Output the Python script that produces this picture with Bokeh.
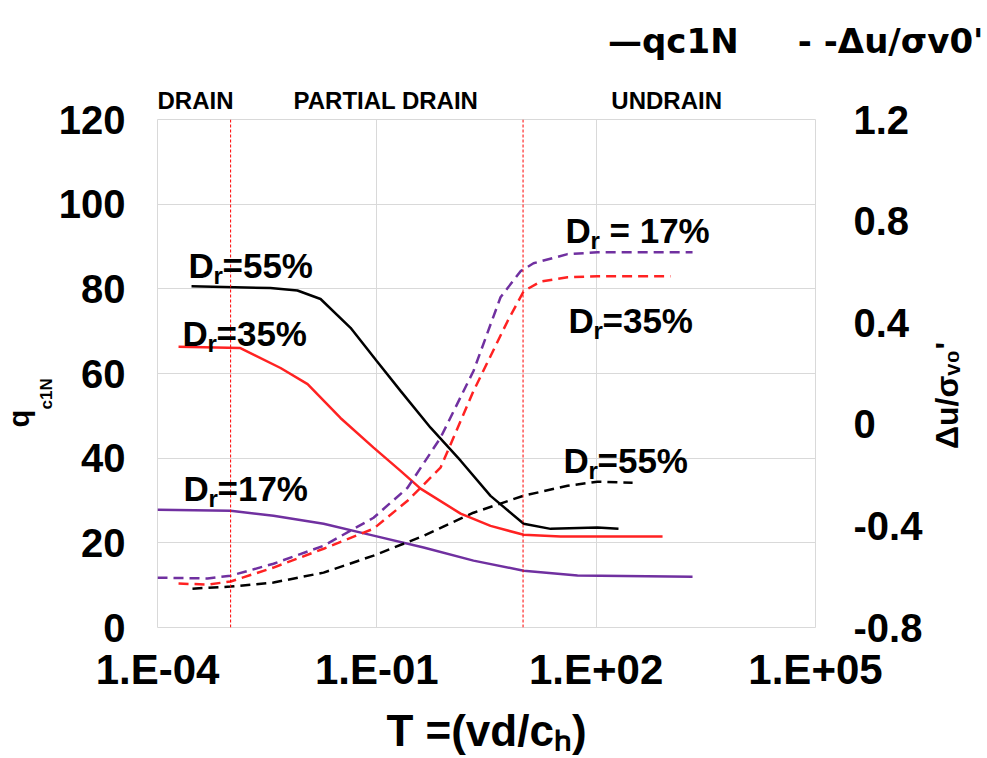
import math
from bokeh.plotting import figure
from bokeh.models import (Range1d, LinearAxis, FixedTicker, CustomJSTickFormatter,
                          Span, Label, Title)
from bokeh.embed import file_html
from bokeh.resources import INLINE

# ---- data: normalised penetration velocity T = vd/c_h ----
# cone resistance q_c1N (left axis)
t_qc_55 = [2.92e-4, 3.5e-3, 8.2e-3, 0.0170, 0.0437, 0.099, 0.211, 0.543, 1.40, 3.59, 10.2, 23.8, 104, 202]
qc_55 = [80.6, 80.2, 79.6, 77.6, 70.8, 63.0, 55.9, 47.2, 39.4, 31.1, 24.5, 23.3, 23.6, 23.3]

t_qc_35 = [1.94e-4, 1.36e-3, 4.82e-3, 0.0113, 0.0318, 0.0902, 0.211, 0.396, 1.40, 3.59, 10.2, 32.6, 809]
qc_35 = [66.3, 66.0, 61.3, 57.5, 49.5, 42.5, 37.0, 32.8, 26.9, 24.0, 21.9, 21.5, 21.5]

t_qc_17 = [1.0e-4, 1.0e-3, 3.86e-3, 0.0187, 0.0902, 0.436, 2.10, 10.2, 55.6, 2080]
qc_17 = [27.8, 27.6, 26.4, 24.5, 21.7, 18.9, 15.8, 13.4, 12.3, 12.0]

# excess pore pressure ratio du/sigma'_v0 (right axis)
t_du_17 = [1.0e-4, 4.83e-4, 1.0e-3, 3.86e-3, 0.0187, 0.0902, 0.263, 0.743, 2.10, 4.92, 9.25, 13.9, 40.6, 104, 2080]
du_17 = [-0.604, -0.607, -0.596, -0.549, -0.478, -0.368, -0.25, -0.053, 0.21, 0.50, 0.603, 0.634, 0.67, 0.677, 0.677]

t_du_35 = [1.94e-4, 4.83e-4, 1.0e-3, 3.86e-3, 0.0187, 0.0902, 0.263, 0.743, 2.10, 6.14, 10.2, 17.3, 40.6, 104, 1040]
du_35 = [-0.627, -0.631, -0.619, -0.564, -0.49, -0.411, -0.301, -0.171, 0.131, 0.406, 0.524, 0.562, 0.579, 0.583, 0.583]

t_du_55 = [3.01e-4, 1.0e-3, 3.86e-3, 0.0187, 0.0902, 0.436, 2.10, 10.2, 40.6, 104, 315]
du_55 = [-0.647, -0.639, -0.623, -0.584, -0.517, -0.439, -0.348, -0.281, -0.242, -0.226, -0.23]

# drainage boundaries
drainage_limits = [1e-3, 1e1]

x_ticks = [1e-4, 1e-1, 1e2, 1e5]
y_left_ticks = [0, 20, 40, 60, 80, 100, 120]
y_right_ticks = [-0.8, -0.4, 0.0, 0.4, 0.8, 1.2]

BLACK = "#000000"
RED = "#ff2222"
PURPLE = "#7030a0"
GRID = "#d9d9d9"
FONT = "Liberation Sans"
NB = "\u00a0"

p = figure(width=987, height=758, x_axis_type="log",
           x_range=Range1d(1e-4, 1e5), y_range=Range1d(0, 120),
           output_backend="svg", toolbar_location=None,
           min_border_left=157, min_border_right=172,
           min_border_top=118, min_border_bottom=131)
p.title.visible = False
p.background_fill_color = "white"
p.border_fill_color = "white"
p.outline_line_color = GRID
p.outline_line_width = 1

p.extra_y_ranges = {"pp": Range1d(-0.8, 1.2)}

# bottom axis
xa = p.xaxis[0]
xa.ticker = FixedTicker(ticks=x_ticks, minor_ticks=[])
xa.formatter = CustomJSTickFormatter(code="""
    const e = Math.round(Math.log10(tick));
    const a = Math.abs(e);
    return "1.E" + (e < 0 ? "-" : "+") + (a < 10 ? "0" + a : "" + a);
""")
xa.major_label_text_font_size = "42px"
xa.major_label_standoff = 18
xa.axis_label = "T =(vd/c\u2095)"
xa.axis_label_standoff = 10
xa.axis_label_text_font_size = "44px"

# left axis
ya = p.yaxis[0]
ya.ticker = FixedTicker(ticks=y_left_ticks, minor_ticks=[])
ya.major_label_text_font_size = "40px"
ya.major_label_standoff = 32
ya.axis_label = None

# right axis
ra = LinearAxis(y_range_name="pp", ticker=FixedTicker(ticks=y_right_ticks, minor_ticks=[]))
ra.formatter = CustomJSTickFormatter(code="""
    return tick.toFixed(1).replace(/\\.0$/, "").replace(/^-0$/, "0");
""")
ra.major_label_text_font_size = "40px"
ra.major_label_standoff = 38
ra.axis_label = None
p.add_layout(ra, "right")

# right axis title, written bottom-to-top from a single anchor tick
ra_title = LinearAxis(y_range_name="pp", ticker=FixedTicker(ticks=[-0.097], minor_ticks=[]))
ra_title.formatter = CustomJSTickFormatter(code="return \"\u0394u/\u03c3\u1d65\u2080'\";")
ra_title.major_label_orientation = math.pi / 2
ra_title.major_label_text_font_size = "32px"
ra_title.major_label_standoff = 22
ra_title.axis_label = None
p.add_layout(ra_title, "right")

for ax in (xa, ya, ra, ra_title):
    ax.axis_line_color = None
    ax.major_tick_line_color = None
    ax.minor_tick_line_color = None
    ax.major_tick_out = 0
    ax.major_tick_in = 0
    ax.major_label_text_font = FONT
    ax.major_label_text_font_style = "bold"
    ax.major_label_text_color = "black"
    ax.axis_label_text_font = FONT
    ax.axis_label_text_font_style = "bold"
    ax.axis_label_text_color = "black"

p.xgrid.grid_line_color = GRID
p.ygrid.grid_line_color = GRID
p.xgrid.grid_line_width = 1
p.ygrid.grid_line_width = 1

for loc in drainage_limits:
    p.add_layout(Span(location=loc, dimension="height", line_color="red",
                      line_width=1, line_dash="3 2"))

# q_c1N curves
p.line(t_qc_55, qc_55, line_color=BLACK, line_width=2.5)
p.line(t_qc_35, qc_35, line_color=RED, line_width=2.5)
p.line(t_qc_17, qc_17, line_color=PURPLE, line_width=2.5)

# pore pressure curves
dash = "10 6"
p.line(t_du_17, du_17, line_color=PURPLE, line_width=2.5, line_dash=dash, y_range_name="pp")
p.line(t_du_35, du_35, line_color=RED, line_width=2.5, line_dash=dash, y_range_name="pp")
p.line(t_du_55, du_55, line_color=BLACK, line_width=2.5, line_dash=dash, y_range_name="pp")


def side_title(text, place, size, align="left", offset=0, standoff=0, font=FONT):
    p.add_layout(Title(text=text, align=align, offset=offset, standoff=standoff,
                       text_font=font, text_font_style="bold",
                       text_font_size=f"{size}px", text_color="black"), place)


# drainage zones above the frame
side_title("DRAIN" + NB * 9 + "PARTIAL DRAIN" + NB * 20 + "UNDRAIN", "above", 24, standoff=12)

# series key: solid = q_c1N, dashed = pore pressure ratio
side_title("\u2014qc1N" + NB * 5 + "- -\u0394u/\u03c3v0'", "above", 34,
           align="right", offset=-168, standoff=36, font="DejaVu Sans")

# left axis title: q with subscript c1N
side_title("c1N", "left", 17, offset=218)
side_title("q", "left", 29, offset=200)

# ---- relative density labels inside the frame (canvas pixels) ----
FL, FB = 157, 627  # frame left / bottom on the canvas


def put(text, cx, cy, size):
    p.add_layout(Label(x=cx - FL, y=FB - cy, x_units="screen", y_units="screen",
                       text=text, text_font=FONT, text_font_style="bold",
                       text_font_size=f"{size}px", text_color="black",
                       text_baseline="alphabetic", text_align="left"))


def dr_label(cx, cy, rest, sub_dx=25, rest_dx=34):
    put("D", cx, cy, 35)
    put("r", cx + sub_dx, cy + 10, 24)
    put(rest, cx + rest_dx, cy, 35)


dr_label(188, 265, "=55%")
dr_label(182, 333, "=35%")
dr_label(183, 488, "=17%")
dr_label(565, 230, "= 17%", rest_dx=44)
dr_label(568, 320, "=35%")
dr_label(563, 460, "=55%")

open("out.html", "w").write(file_html(p, INLINE))
